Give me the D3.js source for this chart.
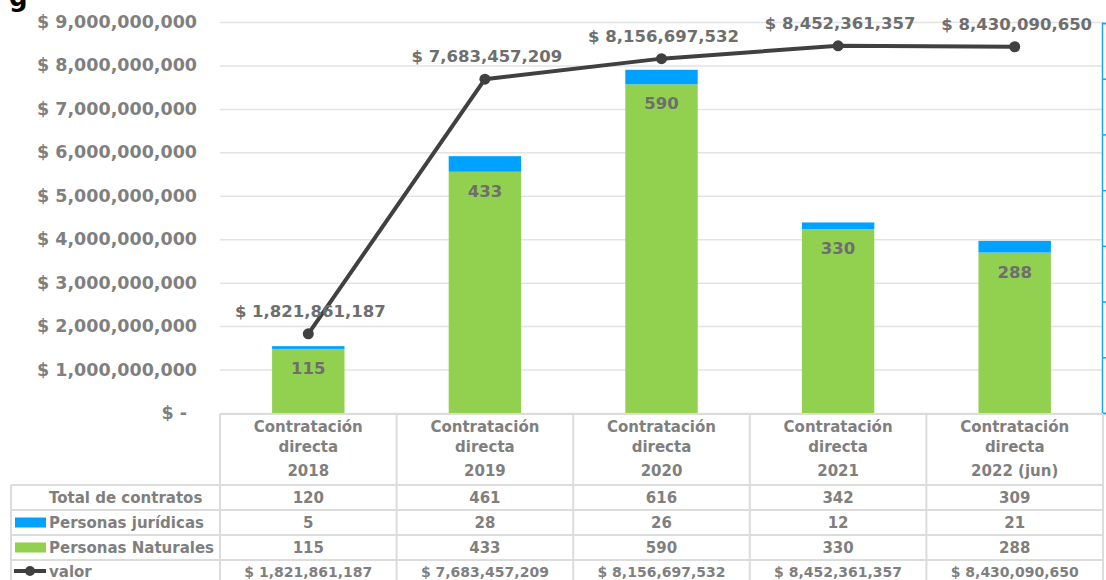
<!DOCTYPE html>
<html>
<head>
<meta charset="utf-8">
<script src="https://cdn.jsdelivr.net/npm/d3@7"></script>
<style>
  body { margin: 0; background: #fff; }
  svg text { font-family: "DejaVu Sans", sans-serif; font-weight: bold; }
</style>
</head>
<body>
<div id="chart"></div>
<script>
var categories = ['2018', '2019', '2020', '2021', '2022 (jun)']
var totalContratos = [120, 461, 616, 342, 309]
var juridicas = [5, 28, 26, 12, 21]
var naturales = [115, 433, 590, 330, 288]
var valor = [1821861187, 7683457209, 8156697532, 8452361357, 8430090650]
var leftTicks = [0, 1e9, 2e9, 3e9, 4e9, 5e9, 6e9, 7e9, 8e9, 9e9]
var rightTicks = [0, 100, 200, 300, 400, 500, 600, 700]

var W = 1106, H = 580
var green = '#92d050', blue = '#00a2ff', grey = '#7f7f7f', dark = '#404040'
var money = function(v) { return v === 0 ? '$ -' : '$ ' + d3.format(',')(v) }

var svg = d3.select('#chart').append('svg')
  .attr('width', W).attr('height', H)

var x = d3.scaleBand().domain(categories).range([220, 1103])
var y = d3.scaleLinear().domain([0, 9e9]).range([413, 22])
var y2 = d3.scaleLinear().domain([0, 700]).range([413, 23])
var bw = x.bandwidth() * 0.41
var cx = function(i) { return x(categories[i]) + x.bandwidth() / 2 }

// title fragment, clipped at the top like in the source
svg.append('text').attr('x', 9).attr('y', 6)
  .style('font-size', '26px').attr('fill', '#000').text('g')

// gridlines + left labels
var ga = svg.append('g').attr('transform', 'translate(220,0)')
  .call(d3.axisLeft(y).tickValues(leftTicks).tickSize(-883).tickFormat(''))
ga.select('.domain').remove()
ga.selectAll('line').attr('stroke', '#e3e3e3').attr('stroke-width', 1.5)

svg.selectAll('.ylab').data(leftTicks).enter().append('text')
  .attr('class', 'ylab')
  .attr('x', function(d) { return d === 0 ? 187 : 197 })
  .attr('y', function(d) { return y(d) + 6 })
  .attr('text-anchor', 'end')
  .attr('fill', grey)
  .style('font-size', '17.5px')
  .text(money)

// right axis (labels cut off)
var ra = svg.append('g').attr('transform', 'translate(1102,0)')
  .call(d3.axisRight(y2).tickValues(rightTicks).tickSize(6).tickFormat(''))
ra.selectAll('line, path').attr('stroke', '#1aa3f5').attr('stroke-width', 1.5)

// stacked bars
svg.selectAll('.nat').data(naturales).enter().append('rect')
  .attr('x', function(d, i) { return cx(i) - bw / 2 })
  .attr('y', function(d) { return y2(d) })
  .attr('width', bw)
  .attr('height', function(d) { return y2(0) - y2(d) })
  .attr('fill', green)
svg.selectAll('.jur').data(juridicas).enter().append('rect')
  .attr('x', function(d, i) { return cx(i) - bw / 2 })
  .attr('y', function(d, i) { return y2(naturales[i] + d) })
  .attr('width', bw)
  .attr('height', function(d, i) { return y2(naturales[i]) - y2(naturales[i] + d) })
  .attr('fill', blue)
svg.selectAll('.natlab').data(naturales).enter().append('text')
  .attr('x', function(d, i) { return cx(i) })
  .attr('y', function(d) { return y2(d) + 25 })
  .attr('text-anchor', 'middle')
  .attr('fill', '#6e6e6e')
  .style('font-size', '16.5px')
  .text(function(d) { return d })

// valor line
var line = d3.line()
  .x(function(d, i) { return cx(i) })
  .y(function(d) { return y(d) })
svg.append('path').datum(valor)
  .attr('d', line)
  .attr('fill', 'none')
  .attr('stroke', dark)
  .attr('stroke-width', 4)
svg.selectAll('.pt').data(valor).enter().append('circle')
  .attr('cx', function(d, i) { return cx(i) })
  .attr('cy', function(d) { return y(d) })
  .attr('r', 5.5)
  .attr('fill', dark)
svg.selectAll('.vlab').data(valor).enter().append('text')
  .attr('x', function(d, i) { return cx(i) + 2 })
  .attr('y', function(d) { return y(d) - 17 })
  .attr('text-anchor', 'middle')
  .attr('fill', '#6e6e6e')
  .style('font-size', '16.5px')
  .text(money)

// data table
var tableLine = '#dcdcdc'
var rowY = [485, 510, 535, 560, 585]
var cols = d3.range(categories.length + 1).map(function(i) {
  return i < categories.length ? x(categories[i]) : 1103
})
cols.forEach(function(c) {
  svg.append('line').attr('x1', c).attr('x2', c).attr('y1', 414).attr('y2', H)
    .attr('stroke', tableLine).attr('stroke-width', 2)
})
svg.append('line').attr('x1', 220).attr('x2', 1103).attr('y1', 414).attr('y2', 414)
  .attr('stroke', tableLine).attr('stroke-width', 2)
rowY.forEach(function(r) {
  svg.append('line').attr('x1', 11).attr('x2', 1103).attr('y1', r).attr('y2', r)
    .attr('stroke', tableLine).attr('stroke-width', 2)
})
svg.append('line').attr('x1', 11).attr('x2', 11).attr('y1', 485).attr('y2', H)
  .attr('stroke', tableLine).attr('stroke-width', 2)

// header cells
categories.forEach(function(c, i) {
  var hx = cx(i)
  var t = svg.append('text').attr('text-anchor', 'middle').attr('fill', grey)
    .style('font-size', '15px')
  t.append('tspan').attr('x', hx).attr('y', 432).text('Contratación')
  t.append('tspan').attr('x', hx).attr('y', 452).text('directa')
  t.append('tspan').attr('x', hx).attr('y', 476).text(c)
})

var rows = [
  { name: 'Total de contratos', vals: totalContratos, fmt: String },
  { name: 'Personas jurídicas', vals: juridicas, fmt: String, swatch: blue },
  { name: 'Personas Naturales', vals: naturales, fmt: String, swatch: green },
  { name: 'valor', vals: valor, fmt: money, marker: true }
]
rows.forEach(function(r, k) {
  var mid = (rowY[k] + (k < 3 ? rowY[k + 1] : 582)) / 2
  svg.append('text').attr('x', 49).attr('y', mid + 5.5)
    .attr('fill', grey).style('font-size', '15px').text(r.name)
  if (r.swatch) {
    svg.append('rect').attr('x', 15).attr('y', mid - 5).attr('width', 31).attr('height', 10)
      .attr('fill', r.swatch)
  }
  if (r.marker) {
    svg.append('line').attr('x1', 14).attr('x2', 46).attr('y1', mid).attr('y2', mid)
      .attr('stroke', dark).attr('stroke-width', 4)
    svg.append('circle').attr('cx', 30).attr('cy', mid).attr('r', 5).attr('fill', dark)
  }
  r.vals.forEach(function(v, i) {
    svg.append('text').attr('x', cx(i)).attr('y', mid + 5.5)
      .attr('text-anchor', 'middle').attr('fill', grey)
      .style('font-size', r.marker ? '14px' : '15px').text(r.fmt(v))
  })
})
</script>
</body>
</html>
